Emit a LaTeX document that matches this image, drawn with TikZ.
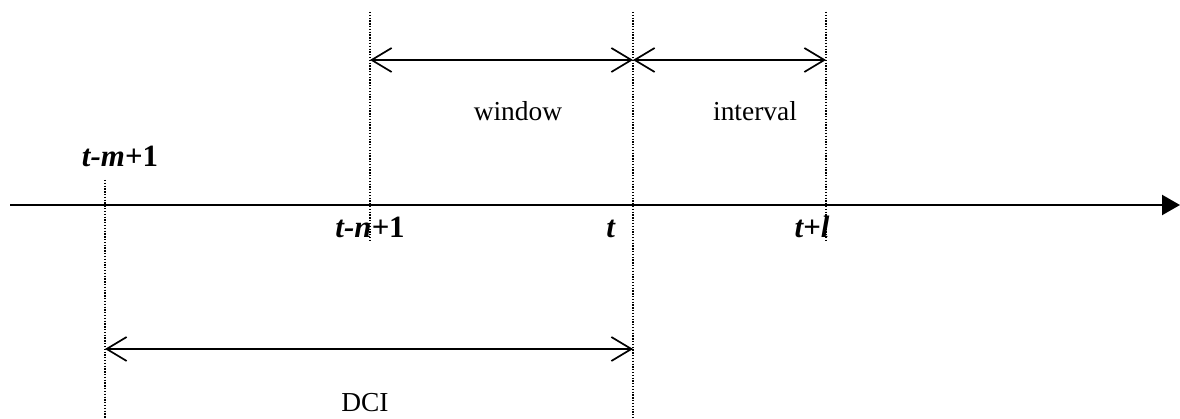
\documentclass[tikz,border=0pt]{standalone}
\usepackage{fontspec}
\setmainfont{Liberation Serif}
\usetikzlibrary{arrows.meta}
\begin{document}
\begin{tikzpicture}[x=0.025cm,y=-0.025cm,
  guide/.style={line width=0.9pt,dash pattern=on 0.9pt off 1.1pt},
  span/.style={line width=1.2pt,{Straight Barb[length=0.5cm,width=0.6cm,line width=1.2pt]}-{Straight Barb[length=0.5cm,width=0.6cm,line width=1.2pt]}},
  lbl/.style={inner sep=0pt,font=\fontsize{19.5}{23}\selectfont},
  tlbl/.style={inner sep=0pt,font=\fontsize{22}{26}\selectfont}]
\useasboundingbox (0,0) rectangle (1180,419);
% axis
\coordinate (a0) at (10,205);
\coordinate (a1) at (1180,205);
\draw[line width=1.6pt,-{Triangle[length=0.45cm,width=0.5cm]}] (a0) -- (a1);
% guide lines
\coordinate (m0) at (105,180); \coordinate (m1) at (105,419);
\coordinate (n0) at (370,12);  \coordinate (n1) at (370,240);
\coordinate (t0) at (633,12);  \coordinate (t1) at (633,419);
\coordinate (l0) at (826,12);  \coordinate (l1) at (826,240);
\draw[guide] (m0) -- (m1);
\draw[guide] (n0) -- (n1);
\draw[guide] (t0) -- (t1);
\draw[guide] (l0) -- (l1);
% span arrows
\coordinate (w0) at (370,60); \coordinate (w1) at (633,60); \coordinate (i1) at (826,60);
\coordinate (d0) at (105,349); \coordinate (d1) at (633,349);
\draw[span] (w0) -- (w1);
\draw[span] (w1) -- (i1);
\draw[span] (d0) -- (d1);
% labels
\node[tlbl,anchor=base] (lm) at (120,167) {\textbf{\textit{t-m+}1}};
\node[tlbl,anchor=base] (ln) at (370,238) {\textbf{\textit{t-n+}1}};
\node[tlbl,anchor=base] (lt) at (611,238) {\textbf{\textit{t}}};
\node[tlbl,anchor=base] (ll) at (812,238) {\textbf{\textit{t+l}}};
\node[lbl,anchor=base] (win) at (518,121) {window};
\node[lbl,anchor=base] (int) at (755,121) {interval};
\node[lbl,anchor=base] (dci) at (365,412) {DCI};
\end{tikzpicture}
\end{document}
